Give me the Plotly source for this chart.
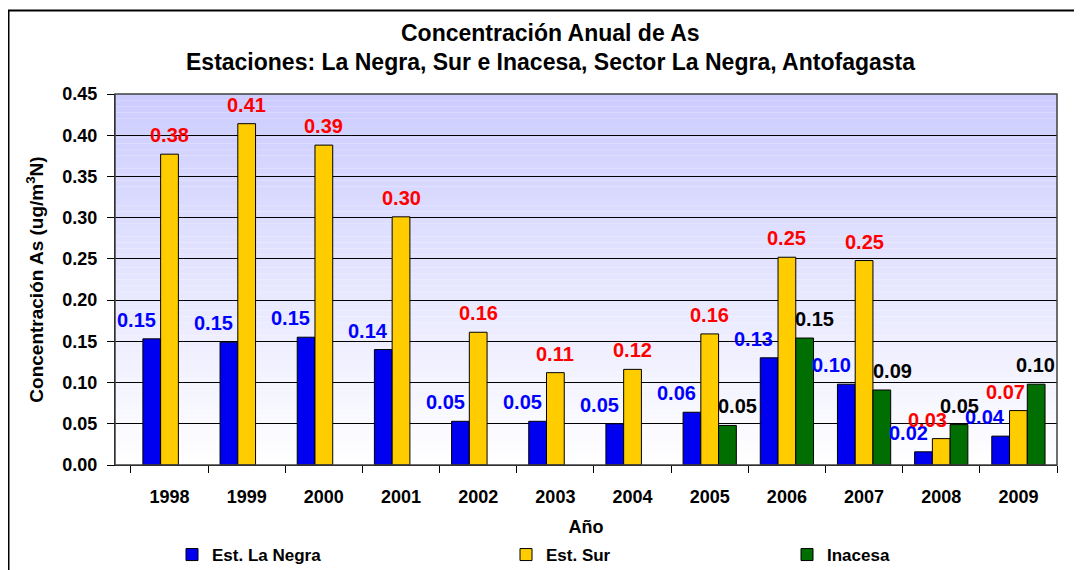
import plotly.graph_objects as go

years = ["1998", "1999", "2000", "2001", "2002", "2003", "2004", "2005", "2006", "2007", "2008", "2009"]
la_negra = [0.153, 0.149, 0.155, 0.140, 0.053, 0.053, 0.050, 0.064, 0.130, 0.098, 0.016, 0.035]
est_sur = [0.377, 0.414, 0.388, 0.301, 0.161, 0.112, 0.116, 0.159, 0.252, 0.248, 0.032, 0.066]
inacesa = [None, None, None, None, None, None, None, 0.048, 0.154, 0.091, 0.049, 0.098]

series = [
    ("Est. La Negra", la_negra, "#0000F0", "#0000FF", -33, "legend"),
    ("Est. Sur", est_sur, "#FFCC00", "#FF0000", 0, "legend2"),
    ("Inacesa", inacesa, "#006E00", "#000000", 28, "legend3"),
]
# label placement tweaks (style only), as in the original where crowded labels are nudged
shift_override = {("Est. Sur", "2008"): -14, ("Est. Sur", "2009"): -13,
                  ("Inacesa", "2008"): 18, ("Inacesa", "2009"): 17}

FONT = "Liberation Sans, Arial, sans-serif"
W, H = 1082, 570
OFF = 8  # page body margin offset
# target plot area in screen pixels: x 115..1057, y 94..465
ML, MT = 115 - OFF, 94 - OFF
MR = W + OFF - 1057
MB = H + OFF - 465
pw, ph = W - ML - MR, H - MT - MB


def px_x(sx):  # screen x -> paper fraction
    return (sx - OFF - ML) / pw


def px_y(sy):  # screen y -> paper fraction
    return (H - MB - (sy - OFF)) / ph


def bf(size, color="#000000"):
    return dict(family=FONT, size=size, color=color, weight="bold")


fig = go.Figure()
for name, vals, color, lab_color, shift, lg in series:
    fig.add_trace(go.Bar(
        x=years, y=vals, name=name, legend=lg,
        marker=dict(color=color, line=dict(color="#000000", width=1)),
    ))
    for i, v in enumerate(vals):
        if v is None:
            continue
        fig.add_annotation(
            x=i, y=v, xref="x", yref="y", text=f"{v:.2f}",
            showarrow=False, xshift=shift_override.get((name, years[i]), shift), yshift=6,
            yanchor="bottom", font=bf(20, lab_color),
        )

# gradient background in plot area
shapes = []
N = 60
top = (204, 204, 255)
for i in range(N):
    f0 = i / N
    f1 = (i + 1) / N
    fm = (f0 + f1) / 2
    c = tuple(int(round(255 + (t - 255) * fm)) for t in top)
    shapes.append(dict(type="rect", xref="x domain", yref="y domain", x0=0, x1=1, y0=f0, y1=f1,
                       fillcolor=f"rgb{c}", line=dict(width=0), layer="below"))
shapes.append(dict(type="rect", xref="x domain", yref="y domain", x0=0, x1=1, y0=0, y1=1,
                   line=dict(color="#404040", width=1.5), fillcolor="rgba(0,0,0,0)", layer="above"))
# outer chart frame
shapes.append(dict(type="rect", xref="paper", yref="paper",
                   x0=px_x(8.5), x1=px_x(W + 40), y0=px_y(H + 40), y1=px_y(10.5),
                   line=dict(color="#000000", width=2), fillcolor="rgba(0,0,0,0)"))

title_x = px_x(550)
fig.add_annotation(xref="paper", yref="paper", x=title_x, y=px_y(33), showarrow=False,
                   text="Concentración Anual de As", font=bf(23), yanchor="middle")
fig.add_annotation(xref="paper", yref="paper", x=title_x, y=px_y(62), showarrow=False,
                   text="Estaciones: La Negra, Sur e Inacesa, Sector La Negra, Antofagasta",
                   font=bf(23), yanchor="middle")

legend_common = dict(orientation="h", yanchor="middle", xanchor="left", xref="container",
                     yref="container", y=1 - (555 - OFF) / H, font=bf(17), bgcolor="rgba(0,0,0,0)")
fig.update_layout(
    width=W, height=H,
    margin=dict(l=ML, r=MR, t=MT, b=MB, autoexpand=False),
    paper_bgcolor="#FFFFFF", plot_bgcolor="rgba(0,0,0,0)",
    barmode="group", bargap=0.31, bargroupgap=0,
    shapes=shapes,
    showlegend=True,
    legend=dict(x=(172 - OFF) / W, **legend_common),
    legend2=dict(x=(506 - OFF) / W, **legend_common),
    legend3=dict(x=(787 - OFF) / W, **legend_common),
    xaxis=dict(
        type="category", tickson="boundaries", ticks="outside", ticklen=7, tickcolor="#000",
        showline=True, linecolor="#000", linewidth=1, showgrid=False, automargin=False,
        tickfont=bf(18), tickangle=0, ticklabelstandoff=15,
        title=dict(text="Año", font=bf(18), standoff=15),
    ),
    yaxis=dict(
        range=[0, 0.45], dtick=0.05, tickformat=".2f", ticks="outside", ticklen=7, tickcolor="#000",
        showline=True, linecolor="#000", linewidth=1, automargin=False,
        showgrid=True, gridcolor="#000", gridwidth=1, zeroline=False,
        tickfont=bf(18), ticklabelstandoff=6,
        title=dict(text="Concentración As (ug/m<sup>3</sup>N)", font=bf(19), standoff=13),
    ),
)
fig.write_html("out.html")
